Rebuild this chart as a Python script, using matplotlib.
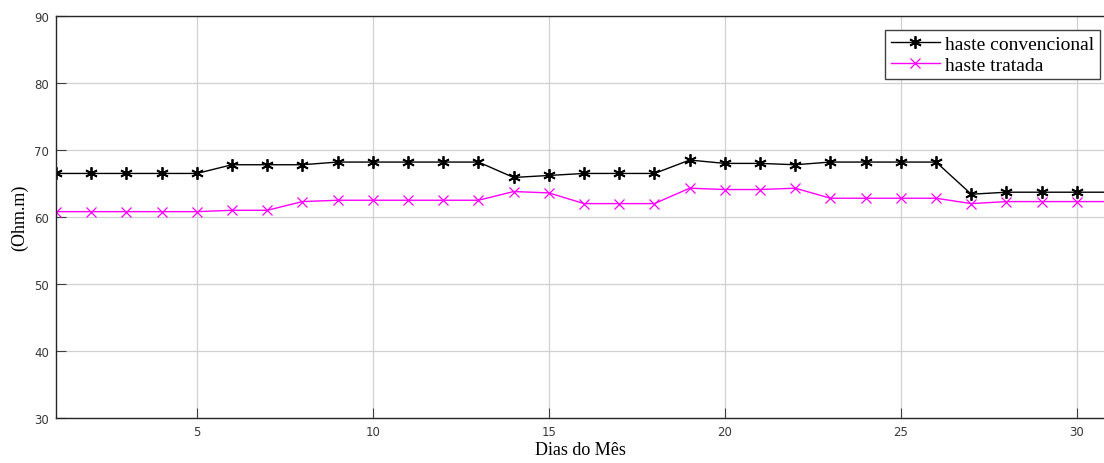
import matplotlib
matplotlib.use("Agg")
import matplotlib.pyplot as plt

# day of the month
dias = list(range(1, 32))

haste_convencional = [
    66.5, 66.5, 66.5, 66.5, 66.5, 67.8, 67.8, 67.8, 68.2, 68.2,
    68.2, 68.2, 68.2, 65.9, 66.2, 66.5, 66.5, 66.5, 68.5, 68.0,
    68.0, 67.8, 68.2, 68.2, 68.2, 68.2, 63.4, 63.7, 63.7, 63.7,
    63.7,
]

haste_tratada = [
    60.8, 60.8, 60.8, 60.8, 60.8, 61.0, 61.0, 62.3, 62.5, 62.5,
    62.5, 62.5, 62.5, 63.8, 63.6, 62.0, 62.0, 62.0, 64.3, 64.1,
    64.1, 64.3, 62.8, 62.8, 62.8, 62.8, 62.0, 62.3, 62.3, 62.3,
    62.3,
]

x_ticks = [5, 10, 15, 20, 25, 30]
y_ticks = [30, 40, 50, 60, 70, 80, 90]

SERIF = ["Liberation Serif", "DejaVu Serif"]
ASTERISK = (6, 2, 0)  # matlab-style '*'

fig = plt.figure(figsize=(11.04, 4.64), dpi=100)
ax = fig.add_axes([56 / 1104, 1 - 419 / 464, 1 - 56 / 1104, (419 - 17) / 464])

ax.plot(dias, haste_convencional, color="black", marker=ASTERISK, markersize=9,
        markeredgewidth=1.3, linewidth=1.0, label="haste convencional")
ax.plot(dias, haste_tratada, color="#ff00ff", marker="x", markersize=6.5,
        markeredgewidth=0.9, linewidth=1.0, label="haste tratada")

ax.set_xlim(1, 30.77)
ax.set_ylim(30, 90)
ax.set_xticks(x_ticks)
ax.set_yticks(y_ticks)
ax.grid(True, color="#d0d0d0", linewidth=0.9)
ax.set_axisbelow(True)

ax.tick_params(direction="in", length=7, labelsize=8.5, labelcolor="#383838",
               color="#404040", top=False, right=False, pad=5)
ax.spines["right"].set_visible(False)
for side in ("left", "bottom", "top"):
    ax.spines[side].set_color("#262626")
    ax.spines[side].set_linewidth(1.0)

ax.set_xlabel("Dias do Mês", family=SERIF, fontsize=13, labelpad=2)
ax.set_ylabel("(Ohm.m)", family=SERIF, fontsize=13, labelpad=4)

leg = ax.legend(loc="upper right", bbox_to_anchor=(0.9995, 0.976),
                prop={"family": SERIF, "size": 14}, frameon=True,
                fancybox=False, edgecolor="#404040", framealpha=1,
                borderpad=0.3, labelspacing=0.15, handlelength=2.5,
                handletextpad=0.25, borderaxespad=0.2)
leg.get_frame().set_linewidth(1.0)

fig.savefig("out.png", dpi=100)
